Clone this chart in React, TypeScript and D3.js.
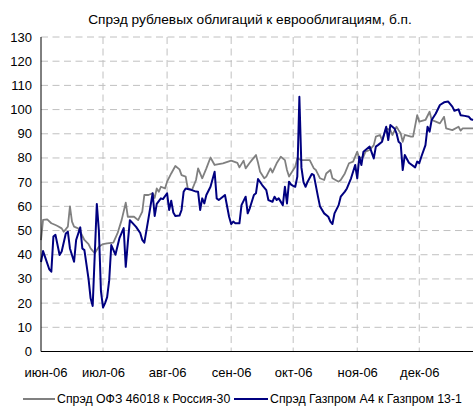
import React from "react";
import * as d3 from "d3";

// spread OFZ 46018 vs Russia-30, b.p.
const ofzDates = [
  "2006-06-01", "2006-06-02", "2006-06-04", "2006-06-06", "2006-06-08", "2006-06-09", "2006-06-11", "2006-06-12",
  "2006-06-14", "2006-06-15", "2006-06-16", "2006-06-17", "2006-06-19", "2006-06-20", "2006-06-22", "2006-06-24",
  "2006-06-25", "2006-06-27", "2006-06-29", "2006-07-01", "2006-07-03", "2006-07-06", "2006-07-08", "2006-07-10",
  "2006-07-12", "2006-07-13", "2006-07-16", "2006-07-18", "2006-07-20", "2006-07-21", "2006-07-23", "2006-07-25",
  "2006-07-26", "2006-07-27", "2006-07-28", "2006-07-29", "2006-07-31", "2006-08-01", "2006-08-03", "2006-08-05",
  "2006-08-07", "2006-08-08", "2006-08-10", "2006-08-11", "2006-08-13", "2006-08-15", "2006-08-16", "2006-08-18",
  "2006-08-20", "2006-08-22", "2006-08-24", "2006-08-28", "2006-09-01", "2006-09-04", "2006-09-05", "2006-09-07",
  "2006-09-08", "2006-09-10", "2006-09-11", "2006-09-13", "2006-09-14", "2006-09-15", "2006-09-17", "2006-09-18",
  "2006-09-20", "2006-09-21", "2006-09-23", "2006-09-25", "2006-09-27", "2006-09-28", "2006-09-29", "2006-10-02",
  "2006-10-03", "2006-10-05", "2006-10-09", "2006-10-11", "2006-10-12", "2006-10-14", "2006-10-16", "2006-10-17",
  "2006-10-19", "2006-10-20", "2006-10-23", "2006-10-24", "2006-10-26", "2006-10-28", "2006-10-30", "2006-11-01",
  "2006-11-02", "2006-11-04", "2006-11-05", "2006-11-07", "2006-11-09", "2006-11-10", "2006-11-12", "2006-11-13",
  "2006-11-15", "2006-11-17", "2006-11-18", "2006-11-20", "2006-11-21", "2006-11-22", "2006-11-23", "2006-11-24",
  "2006-11-27", "2006-11-28", "2006-11-30", "2006-12-01", "2006-12-04", "2006-12-06", "2006-12-07", "2006-12-09",
  "2006-12-11", "2006-12-13", "2006-12-14", "2006-12-17", "2006-12-20", "2006-12-21", "2006-12-22", "2006-12-27",
];
const ofzValues = [
  46, 54.4, 54.6, 53, 52.3, 51.9, 50.9, 49.5,
  51.6, 60, 53.7, 51.6, 50.9, 49.5, 46.1, 44.4,
  42.6, 40.6, 43.3, 44.4, 44.7, 45, 48.8, 54.3,
  61.5, 55.7, 55.7, 54.3, 57.8, 64.7, 64.7, 65.4,
  63.5, 67.4, 66, 68.1, 67.4, 70.2, 73.6, 76.7,
  75.3, 72.9, 72.3, 67.4, 66.7, 70.9, 75.7, 71.6,
  75.7, 80.2, 77.1, 77.8, 78.9, 78, 76.1, 78.9,
  75.7, 78, 79.1, 81.2, 78, 74.3, 71.6, 72.3,
  75.7, 74, 77.8, 80.5, 79.1, 75, 72.3, 76.4,
  79.8, 79.1, 79.1, 75.7, 75, 71.6, 70.9, 73.6,
  75, 71.6, 70.2, 70.9, 73.6, 77.8, 78.5, 82.6,
  79.8, 80.5, 82.6, 83.3, 85.3, 88.8, 89.5, 87.4,
  92.2, 91.5, 89.5, 92.9, 91.5, 90.2, 86.7, 89.5,
  88.8, 88.8, 97.7, 95, 95.7, 99.1, 95.7, 95,
  94.3, 97, 92.2, 91.5, 92.9, 91.3, 92.2, 92.2,
];

// spread Gazprom A4 vs Gazprom 13-1, b.p.
const gazDates = [
  "2006-06-01", "2006-06-02", "2006-06-03", "2006-06-05", "2006-06-06", "2006-06-07", "2006-06-08", "2006-06-10",
  "2006-06-11", "2006-06-13", "2006-06-14", "2006-06-15", "2006-06-17", "2006-06-18", "2006-06-20", "2006-06-21",
  "2006-06-22", "2006-06-24", "2006-06-25", "2006-06-26", "2006-06-28", "2006-06-29", "2006-06-30", "2006-07-01",
  "2006-07-02", "2006-07-03", "2006-07-04", "2006-07-05", "2006-07-07", "2006-07-09", "2006-07-11", "2006-07-12",
  "2006-07-13", "2006-07-14", "2006-07-17", "2006-07-19", "2006-07-20", "2006-07-21", "2006-07-23", "2006-07-25",
  "2006-07-26", "2006-07-27", "2006-07-29", "2006-07-30", "2006-08-01", "2006-08-02", "2006-08-03", "2006-08-04",
  "2006-08-05", "2006-08-07", "2006-08-08", "2006-08-09", "2006-08-10", "2006-08-12", "2006-08-15", "2006-08-16",
  "2006-08-17", "2006-08-18", "2006-08-19", "2006-08-20", "2006-08-22", "2006-08-24", "2006-08-25", "2006-08-26",
  "2006-08-28", "2006-08-29", "2006-08-31", "2006-09-01", "2006-09-02", "2006-09-03", "2006-09-05", "2006-09-06",
  "2006-09-08", "2006-09-09", "2006-09-10", "2006-09-12", "2006-09-13", "2006-09-14", "2006-09-16", "2006-09-18",
  "2006-09-19", "2006-09-21", "2006-09-22", "2006-09-23", "2006-09-24", "2006-09-26", "2006-09-27", "2006-09-28",
  "2006-09-29", "2006-09-30", "2006-10-01", "2006-10-02", "2006-10-03", "2006-10-04", "2006-10-05", "2006-10-06",
  "2006-10-07", "2006-10-08", "2006-10-10", "2006-10-11", "2006-10-13", "2006-10-14", "2006-10-16", "2006-10-18",
  "2006-10-19", "2006-10-20", "2006-10-21", "2006-10-23", "2006-10-24", "2006-10-26", "2006-10-27", "2006-10-29",
  "2006-10-31", "2006-11-01", "2006-11-02", "2006-11-03", "2006-11-04", "2006-11-05", "2006-11-07", "2006-11-09",
  "2006-11-10", "2006-11-11", "2006-11-13", "2006-11-15", "2006-11-16", "2006-11-17", "2006-11-19", "2006-11-20",
  "2006-11-21", "2006-11-22", "2006-11-23", "2006-11-24", "2006-11-26", "2006-11-29", "2006-11-30", "2006-12-01",
  "2006-12-02", "2006-12-04", "2006-12-05", "2006-12-06", "2006-12-07", "2006-12-09", "2006-12-11", "2006-12-13",
  "2006-12-15", "2006-12-17", "2006-12-18", "2006-12-20", "2006-12-21", "2006-12-23", "2006-12-25", "2006-12-26",
  "2006-12-27",
];
const gazValues = [
  37, 41.5, 39, 34, 33, 47.5, 48.2, 39.9,
  41.3, 48.8, 49.5, 42.6, 37.1, 46.1, 51.3, 42.6,
  41.9, 30, 22, 18.8, 61, 50, 25, 18.2,
  20, 22.5, 29.5, 44, 40, 47, 51, 35,
  45, 54.3, 51.5, 49, 46.1, 45, 55, 65.4,
  56, 61, 63.3, 63, 65.4, 58.5, 62.3, 57.5,
  56, 56.2, 58.5, 66, 67.4, 67, 66.1, 66,
  58.5, 63.3, 61.2, 64.7, 68.1, 74.3, 63.3, 62.6,
  64, 64.7, 55.7, 52.7, 53.7, 53, 53, 60.5,
  64, 57.1, 59.2, 64.7, 65.4, 71.3, 68.8, 66.7,
  62.6, 61.9, 64, 62.6, 63.3, 60.5, 68.1, 61.2,
  70.2, 69, 68.5, 68.1, 72.3, 105.3, 76, 70,
  68.1, 70.2, 73.4, 72.9, 64, 59.9, 57.1, 55.7,
  53.7, 52.7, 57.1, 60.5, 64, 66.1, 67.4, 71.6,
  77.1, 71.6, 80.5, 77.1, 82.6, 83.3, 84.7, 79.8,
  84.7, 85.3, 86.7, 92.9, 87.4, 93.6, 92.2, 90.2,
  86.7, 86, 75, 81.2, 78, 76.1, 78.5, 77.8,
  80.5, 85.3, 92.9, 90.9, 95.7, 98.4, 101.9, 103,
  103.3, 101.2, 99.5, 100.1, 97.7, 97.4, 97, 96,
  95.7,
];

const monthTicks = ["2006-06-01", "2006-07-01", "2006-08-01", "2006-09-01", "2006-10-01", "2006-11-01", "2006-12-01"];
const monthLabels = ["июн-06", "июл-06", "авг-06", "сен-06", "окт-06", "ноя-06", "дек-06"];
const yTicks = [0, 10, 20, 30, 40, 50, 60, 70, 80, 90, 100, 110, 120, 130];

const title = "Спрэд рублевых облигаций к еврооблигациям, б.п.";
const seriesNames = ["Спрэд ОФЗ 46018 к Россия-30", "Спрэд Газпром А4 к Газпром 13-1"];

const width = 476;
const height = 409;
const font = "'Liberation Sans', Arial, sans-serif";

const parse = d3.utcParse("%Y-%m-%d");

const App = () => {
  const margin = { top: 37, right: 3, bottom: 57.5, left: 41 };

  const x = d3
    .scaleUtc()
    .domain([parse("2006-06-01") as Date, parse("2006-12-27") as Date])
    .range([margin.left, width - margin.right]);
  const y = d3
    .scaleLinear()
    .domain([0, 130])
    .range([height - margin.bottom, margin.top]);

  const ofz = ofzDates.map((d, i) => ({ date: parse(d) as Date, value: ofzValues[i] }));
  const gaz = gazDates.map((d, i) => ({ date: parse(d) as Date, value: gazValues[i] }));

  const line = d3
    .line<{ date: Date; value: number }>()
    .x((d) => x(d.date))
    .y((d) => y(d.value));

  const x0 = margin.left;
  const x1 = width - margin.right;
  const y0 = y(0);
  const yTop = y(130);

  return (
    <svg
      width={width}
      height={height}
      style={{ position: "absolute", left: 0, top: 0, background: "#fff" }}
      fontFamily={font}
    >
      <text x={250} y={24} textAnchor="middle" fontSize={13.7} fill="#000">
        {title}
      </text>

      {/* horizontal grid */}
      {yTicks.map((t) => (
        <line
          key={"h" + t}
          x1={x0}
          x2={x1}
          y1={y(t)}
          y2={y(t)}
          stroke="#c0c0c0"
          strokeWidth={1}
          strokeDasharray="7,4.5"
        />
      ))}
      {/* vertical grid */}
      {monthTicks.slice(1).map((m) => (
        <line
          key={"v" + m}
          x1={x(parse(m) as Date)}
          x2={x(parse(m) as Date)}
          y1={yTop}
          y2={y0}
          stroke="#c0c0c0"
          strokeWidth={1}
          strokeDasharray="7,4.5"
        />
      ))}

      {/* y labels */}
      {yTicks.map((t) => (
        <text key={"yl" + t} x={32} y={y(t) + 4.5} textAnchor="end" fontSize={13} fill="#000">
          {t}
        </text>
      ))}

      {/* x labels */}
      {monthTicks.map((m, i) => (
        <text
          key={"xl" + m}
          x={x(parse(m) as Date) + (i === 0 ? 5 : 0.5)}
          y={377}
          textAnchor="middle"
          fontSize={13}
          fill="#000"
        >
          {monthLabels[i]}
        </text>
      ))}

      <path d={line(ofz) || ""} fill="none" stroke="#808080" strokeWidth={1.8} strokeLinejoin="round" />
      <path d={line(gaz) || ""} fill="none" stroke="#000080" strokeWidth={2} strokeLinejoin="round" />

      {/* axes */}
      <line x1={x0} x2={x0} y1={yTop} y2={y0} stroke="#000" strokeWidth={1} />
      <line x1={x0} x2={x1} y1={y0} y2={y0} stroke="#000" strokeWidth={1} />

      {/* legend */}
      <line x1={23} x2={55} y1={399} y2={399} stroke="#808080" strokeWidth={2} />
      <text x={57} y={403} fontSize={12.3} fill="#000">
        {seriesNames[0]}
      </text>
      <line x1={234} x2={268} y1={399} y2={399} stroke="#000080" strokeWidth={2} />
      <text x={270} y={403} fontSize={12.3} fill="#000">
        {seriesNames[1]}
      </text>
    </svg>
  );
};

export default App;
